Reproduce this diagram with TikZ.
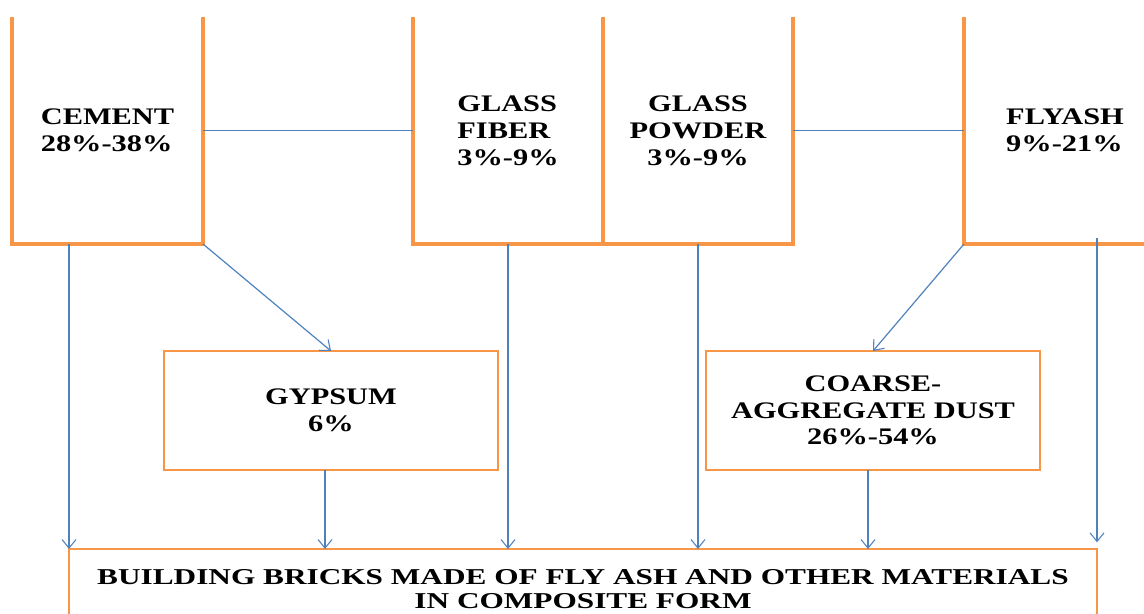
\documentclass[tikz,border=0pt]{standalone}
\usepackage{fontspec}
\setmainfont{Liberation Serif}[FakeStretch=1.28]
\newfontfamily\brickfont{Liberation Serif}[FakeStretch=1.38]
\usetikzlibrary{arrows.meta, positioning}

\definecolor{boxorange}{HTML}{F79646}
\definecolor{linkblue}{HTML}{4F81BD}

\tikzset{
  topbox/.style={inner sep=0pt, outer sep=0pt, minimum width=142.5pt, minimum height=170.25pt,
    font=\fontsize{17.8}{20.3}\selectfont\bfseries},
  midbox/.style={draw=boxorange, line width=1.5pt, inner sep=0pt, outer sep=0pt,
    minimum width=250.5pt, minimum height=89.25pt, align=center,
    font=\fontsize{17.8}{20}\selectfont\bfseries},
  openframe/.style={draw=boxorange, line width=2.6pt},
  link/.style={draw=linkblue, line width=0.9pt},
  flow/.style={link, -{Straight Barb[length=6.5pt, width=10.5pt, line width=0.8pt]}}
}

\begin{document}
\begin{tikzpicture}[x=0.75pt, y=-0.75pt]
  \useasboundingbox (0,0) rectangle (1144,613);
  \clip (0,0) rectangle (1144,613);

  % Raw materials along the top (frames open at the top edge)
  \node[topbox, minimum width=143.25pt, align=left] (cement) at (107.5,130.5) {CEMENT\\28\%-38\%};
  \node[topbox, align=left] (fiber) at (508,130.5) {GLASS\\FIBER\\3\%-9\%};
  \node[topbox, align=center, right=0pt of fiber] (powder) {GLASS\\POWDER\\3\%-9\%};
  \node[topbox, minimum width=151.5pt, align=left] (flyash) at (1065,130.5) {FLYASH\\9\%-21\%};

  \draw[openframe] (cement.north west) -- (cement.south west) -- (cement.south east) -- (cement.north east);
  \draw[openframe] (fiber.north west) -- (fiber.south west) -- (fiber.south east) -- (fiber.north east);
  \draw[openframe] (powder.north west) -- (powder.south west) -- (powder.south east) -- (powder.north east);
  \draw[openframe] (flyash.north west) -- (flyash.south west) -- (flyash.south east);

  % Secondary ingredients
  \node[midbox] (gypsum) at (331,410.5) {GYPSUM\\6\%};
  \node[midbox] (coarse) at (873,410.5) {COARSE-\\AGGREGATE DUST\\26\%-54\%};

  % Final product
  \node[draw=boxorange, line width=1.5pt, inner sep=0pt, outer sep=0pt,
        minimum width=771pt, minimum height=60pt, align=center,
        font=\brickfont\fontsize{17}{18}\selectfont\bfseries] (brick) at (583,589)
    {BUILDING BRICKS MADE OF FLY ASH AND OTHER MATERIALS\\IN COMPOSITE FORM};

  % Connectors
  \draw[link] (cement) -- (fiber);
  \draw[link] (powder) -- (flyash);
  \draw[flow] (cement.south east) -- (gypsum.north);
  \draw[flow] (flyash.south west) -- (coarse.north);
  \draw[flow] (cement.south -| brick.north west) -- (brick.north west);
  \draw[flow] ([xshift=-4.5pt]gypsum.south) -- ([xshift=-4.5pt]gypsum.south |- brick.north);
  \draw[flow] (fiber.south) -- (fiber.south |- brick.north);
  \draw[flow] (powder.south) -- (powder.south |- brick.north);
  \draw[flow] ([xshift=-3.75pt]coarse.south) -- ([xshift=-3.75pt]coarse.south |- brick.north);
  \draw[flow, shorten >=5pt] ([yshift=4.5pt]flyash.south -| brick.north east) -- (brick.north east);
\end{tikzpicture}
\end{document}
